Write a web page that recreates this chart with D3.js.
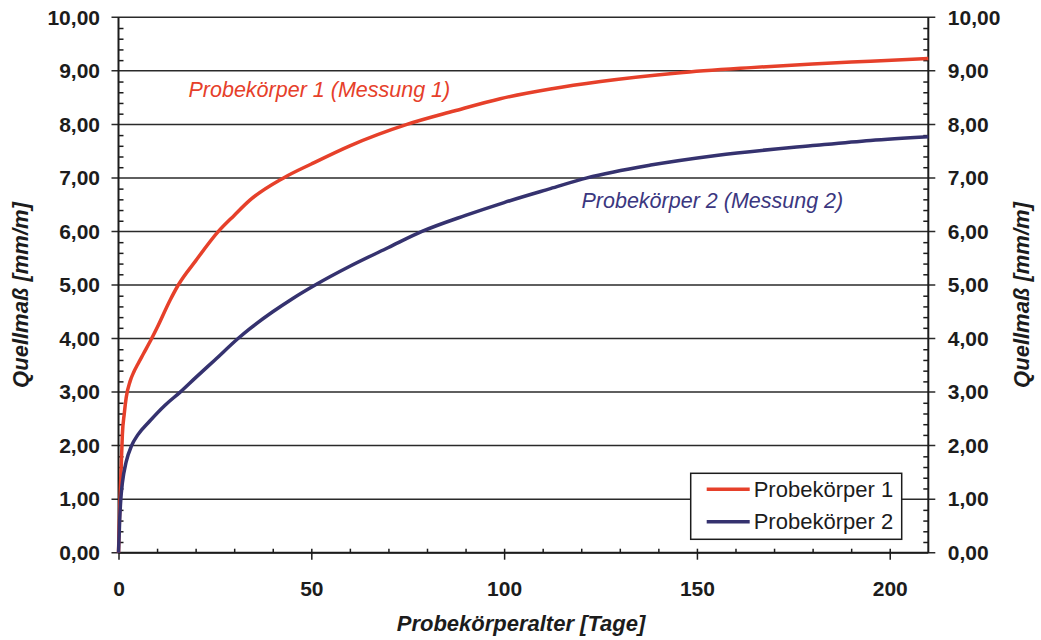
<!DOCTYPE html>
<html lang="de">
<head>
  <meta charset="UTF-8">
  <title>Quellmaß</title>
  <style>
    body { margin: 0; background: #fff; }
    text { font-family: Arial, 'Liberation Sans', sans-serif; }
    .tick text { font-size: 21px; font-weight: bold; fill: #1c1c1c; }
    .axis line { stroke: #1c1c1c; stroke-width: 1.5px; }
    .grid line { stroke: #2a2a2a; stroke-width: 1.5px; }
  </style>
</head>
<body>
  <div id="chart"></div>
  <script src="https://cdn.jsdelivr.net/npm/d3@7"></script>
  <script>
    // Values
    let daysP1 = [0, 0.3, 0.7, 1, 1.5, 2, 3, 4, 5, 6.5, 8.6, 10, 13.4, 15.5, 20, 25.9, 30, 34, 42.8, 50, 60, 74.8, 87, 99, 112, 125, 145, 164, 180, 195, 210];
    let valuesP1 = [0, 0.8, 1.6, 2.2, 2.6, 2.9, 3.2, 3.38, 3.52, 3.72, 4.0, 4.2, 4.72, 5.0, 5.45, 6.0, 6.3, 6.58, 7.0, 7.26, 7.6, 8.0, 8.25, 8.48, 8.66, 8.8, 8.96, 9.06, 9.13, 9.18, 9.23];
    let daysP2 = [0, 0.3, 0.6, 1, 2, 3.4, 5, 8, 12, 16, 20, 25, 31, 34, 40, 45, 51, 60, 70, 78.7, 90, 100, 112, 121.5, 138, 155, 181, 195, 210];
    let valuesP2 = [0, 0.6, 1.0, 1.3, 1.7, 2.0, 2.2, 2.45, 2.75, 3.0, 3.27, 3.6, 4.0, 4.18, 4.5, 4.74, 5.0, 5.35, 5.7, 6.0, 6.3, 6.54, 6.8, 7.0, 7.24, 7.42, 7.61, 7.7, 7.77];

    let seriesNames = ['Probekörper 1', 'Probekörper 2'];
    let annotations = ['Probekörper 1 (Messung 1)', 'Probekörper 2 (Messung 2)'];
    let xTicks = [0, 50, 100, 150, 200];
    let yTicks = d3.range(0, 10.01, 1);
    let xMinor = d3.range(10, 210, 10).filter(d => d % 50 !== 0);
    let yMinor = d3.range(0, 10.01, 0.2).filter(d => Math.abs(d - Math.round(d)) > 0.01);

    let colors = ['#e6402a', '#35326f'];

    let margin = { top: 17.3, right: 112.7, bottom: 87.3, left: 118.5 };
    let width = 1041 - margin.left - margin.right;
    let height = 640 - margin.top - margin.bottom;

    let svg = d3.select('#chart').append('svg')
      .attr('width', 1041)
      .attr('height', 640)
      .append('g')
      .attr('transform', `translate(${margin.left}, ${margin.top})`);

    let xScale = d3.scaleLinear().domain([0, 210]).range([0, width]);
    let yScale = d3.scaleLinear().domain([0, 10]).range([height, 0]);

    let fmt = d => d3.format('.2f')(d).replace('.', ',');

    // Horizontal gridlines, slightly past both axes
    svg.append('g').attr('class', 'grid')
      .selectAll('line')
      .data(yTicks).enter()
      .append('line')
      .attr('x1', -7).attr('x2', width + 7)
      .attr('y1', d => yScale(d)).attr('y2', d => yScale(d));

    // Left axis: labels + minor ticks inside
    svg.append('g').attr('class', 'axis')
      .call(d3.axisLeft(yScale).tickValues(yTicks).tickSize(0).tickPadding(18.5).tickFormat(fmt))
      .call(g => g.select('.domain').remove());
    svg.append('g').attr('class', 'axis')
      .call(d3.axisLeft(yScale).tickValues(yMinor).tickSize(-5).tickFormat(''))
      .call(g => g.select('.domain').remove());

    // Right axis
    svg.append('g').attr('class', 'axis')
      .attr('transform', `translate(${width}, 0)`)
      .call(d3.axisRight(yScale).tickValues(yTicks).tickSize(0).tickPadding(19.5).tickFormat(fmt))
      .call(g => g.select('.domain').remove());
    svg.append('g').attr('class', 'axis')
      .attr('transform', `translate(${width}, 0)`)
      .call(d3.axisRight(yScale).tickValues(yMinor).tickSize(-5).tickFormat(''))
      .call(g => g.select('.domain').remove());

    // Bottom axis: major ticks go outside, minor inside
    svg.append('g').attr('class', 'axis')
      .attr('transform', `translate(0, ${height})`)
      .call(d3.axisBottom(xScale).tickValues(xTicks).tickSize(7).tickPadding(21).tickFormat(d3.format('d')))
      .call(g => g.select('.domain').remove());
    svg.append('g').attr('class', 'axis')
      .attr('transform', `translate(0, ${height})`)
      .call(d3.axisBottom(xScale).tickValues(xTicks.concat(xMinor)).tickSize(-4).tickFormat(''))
      .call(g => g.select('.domain').remove());

    // Frame lines of the axes
    let frame = svg.append('g').attr('class', 'axis');
    frame.append('line').attr('x1', 0).attr('x2', 0).attr('y1', 0).attr('y2', height);
    frame.append('line').attr('x1', width).attr('x2', width).attr('y1', 0).attr('y2', height);
    frame.append('line').attr('x1', 0).attr('x2', width).attr('y1', height).attr('y2', height);
    frame.selectAll('line').style('stroke-width', '2px');

    // Curves
    let line = d3.line()
      .x(d => xScale(d[0]))
      .y(d => yScale(d[1]))
      .curve(d3.curveMonotoneX);

    let series = [
      d3.zip(daysP1, valuesP1),
      d3.zip(daysP2, valuesP2)
    ];

    svg.selectAll('.curve')
      .data(series).enter()
      .append('path')
      .attr('class', 'curve')
      .attr('d', line)
      .attr('fill', 'none')
      .attr('stroke', (d, i) => colors[i])
      .attr('stroke-width', 3.5)
      .attr('stroke-linejoin', 'round');

    // Curve annotations
    svg.append('text')
      .attr('x', 188.5 - margin.left)
      .attr('y', 97.5 - margin.top)
      .style('font-size', '21.5px')
      .style('font-style', 'italic')
      .style('fill', colors[0])
      .text(annotations[0]);
    svg.append('text')
      .attr('x', 581.5 - margin.left)
      .attr('y', 208 - margin.top)
      .style('font-size', '21.5px')
      .style('font-style', 'italic')
      .style('fill', '#3b3780')
      .text(annotations[1]);

    // Legend
    let legend = svg.append('g')
      .attr('transform', `translate(${690.7 - margin.left}, ${473.3 - margin.top})`);
    legend.append('rect')
      .attr('width', 211)
      .attr('height', 66)
      .attr('fill', '#fff')
      .attr('stroke', '#1c1c1c')
      .attr('stroke-width', 1.5);
    let items = legend.selectAll('.item')
      .data(seriesNames).enter()
      .append('g')
      .attr('class', 'item')
      .attr('transform', (d, i) => `translate(0, ${16 + i * 32.5})`);
    items.append('line')
      .attr('x1', 16).attr('x2', 59)
      .attr('stroke', (d, i) => colors[i])
      .attr('stroke-width', 3.5);
    items.append('text')
      .attr('x', 63)
      .attr('y', 7.5)
      .style('font-size', '22px')
      .style('fill', '#1c1c1c')
      .text(d => d);

    // Axis titles
    let titleY = 295 - margin.top;
    svg.append('text')
      .attr('transform', `translate(${28 - margin.left}, ${titleY}) rotate(-90)`)
      .style('text-anchor', 'middle')
      .style('font-size', '22px')
      .style('font-weight', 'bold')
      .style('font-style', 'italic')
      .style('fill', '#1c1c1c')
      .text('Quellmaß [mm/m]');
    svg.append('text')
      .attr('transform', `translate(${1029 - margin.left}, ${titleY}) rotate(-90)`)
      .style('text-anchor', 'middle')
      .style('font-size', '22px')
      .style('font-weight', 'bold')
      .style('font-style', 'italic')
      .style('fill', '#1c1c1c')
      .text('Quellmaß [mm/m]');
    svg.append('text')
      .attr('x', 521 - margin.left)
      .attr('y', 631 - margin.top)
      .style('text-anchor', 'middle')
      .style('font-size', '22px')
      .style('font-weight', 'bold')
      .style('font-style', 'italic')
      .style('fill', '#1c1c1c')
      .text('Probekörperalter [Tage]');
  </script>
</body>
</html>
